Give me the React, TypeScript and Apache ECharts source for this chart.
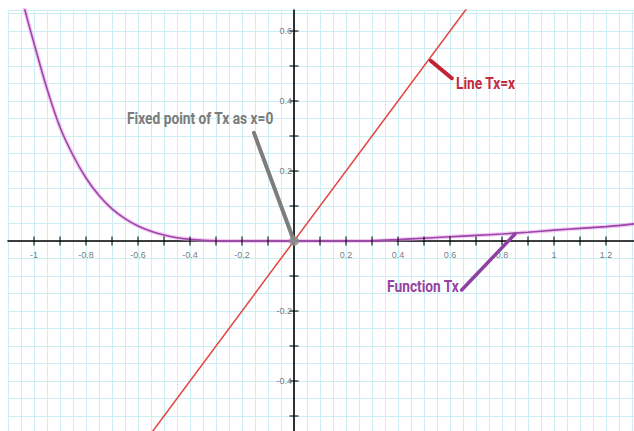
import React, { useEffect, useRef } from "react";
import * as echarts from "echarts";

// Function Tx
const functionTx: [number, number][] = [
  [-1.05, 0.705], [-1.035, 0.66], [-1.0, 0.565], [-0.95, 0.435], [-0.9, 0.325],
  [-0.85, 0.245], [-0.8, 0.18], [-0.75, 0.13], [-0.7, 0.092], [-0.65, 0.064],
  [-0.6, 0.043], [-0.55, 0.028], [-0.5, 0.017], [-0.45, 0.0095], [-0.4, 0.005],
  [-0.35, 0.002], [-0.3, 0.0005], [-0.25, 0], [0, 0], [0.3, 0.001], [0.4, 0.004],
  [0.5, 0.008], [0.6, 0.012], [0.7, 0.016], [0.8, 0.02], [0.9, 0.025], [1.0, 0.031],
  [1.1, 0.036], [1.2, 0.041], [1.31, 0.049],
];
// Line Tx = x
const lineTx: [number, number][] = [[-0.6, -0.6], [0.7, 0.7]];
const fixedPoint: [number, number][] = [[0, 0]];

const xTickValues = [-1.0, -0.9, -0.8, -0.7, -0.6, -0.5, -0.4, -0.3, -0.2, -0.1, 0.1, 0.2, 0.3, 0.4, 0.5, 0.6, 0.7, 0.8, 0.9, 1.0, 1.1, 1.2];
const yTickValues = [-0.5, -0.4, -0.3, -0.2, -0.1, 0.1, 0.2, 0.3, 0.4, 0.5, 0.6];
const xLabelValues = [-1, -0.8, -0.6, -0.4, -0.2, 0.2, 0.4, 0.6, 0.8, 1, 1.2];
const yLabelValues = [-0.4, -0.2, 0.2, 0.4, 0.6];

// annotation pointers (data coordinates)
const pointerFixed: [number, number][] = [[-0.154, 0.309], [0, 0]];
const pointerLine: [number, number][] = [[0.526, 0.515], [0.607, 0.465]];
const pointerFunction: [number, number][] = [[0.645, -0.14], [0.85, 0.02]];

const annotationTexts = ["Fixed point of Tx as x=0", "Line Tx=x", "Function Tx"];
const annotationAnchors: [number, number][] = [[-0.642, 0.351], [0.623, 0.451], [0.358, -0.131]];
const annotationColors = ["#7b7b7b", "#c62a3c", "#9444a2"];

const GRID = "#cdeef2";
const FONT = "Roboto, 'Noto Sans', sans-serif";
const LABEL_FONT = "'Liberation Sans', Arial, sans-serif";

export default function App() {
  const ref = useRef<HTMLDivElement>(null);
  useEffect(() => {
    if (!ref.current) return;
    const chart = echarts.init(ref.current, undefined, { renderer: "svg" });
    const ptrSeries = (data: [number, number][], color: string, width: number) => ({
      type: "line",
      data,
      symbol: "none",
      silent: true,
      z: 4,
      lineStyle: { color, width, cap: "round" },
    });
    const axisCommon = {
      type: "value",
      interval: 0.1,
      axisLine: { onZero: true, lineStyle: { color: "#000", width: 1.6 } },
      axisTick: { show: false },
      axisLabel: { show: false },
      splitLine: { show: true, lineStyle: { color: GRID, width: 1 } },
      minorTick: { show: false, splitNumber: 2 },
      minorSplitLine: { show: true, lineStyle: { color: GRID, width: 1 } },
    };
    const labelStyle = { color: "#555", fontSize: 9, fontFamily: LABEL_FONT };
    chart.setOption({
      animation: false,
      backgroundColor: "#ffffff",
      grid: { left: 8, top: 10, width: 650, height: 441, outerBoundsMode: "none", containLabel: false },
      xAxis: { ...axisCommon, min: -1.1, max: 1.4 },
      yAxis: { ...axisCommon, min: -0.6, max: 0.66 },
      series: [
        {
          type: "scatter",
          data: xTickValues.map((v) => [v, 0]),
          symbol: "rect",
          symbolSize: [1.3, 9],
          itemStyle: { color: "#000" },
          silent: true,
          z: 3,
        },
        {
          type: "scatter",
          data: yTickValues.map((v) => [0, v]),
          symbol: "rect",
          symbolSize: [9, 1.3],
          itemStyle: { color: "#000" },
          silent: true,
          z: 3,
        },
        {
          type: "scatter",
          data: xLabelValues.map((v) => [v, 0]),
          symbolSize: 0,
          silent: true,
          z: 3,
          label: {
            show: true,
            position: "bottom",
            distance: 9,
            formatter: (p: any) => String(p.value[0]),
            ...labelStyle,
          },
        },
        {
          type: "scatter",
          data: yLabelValues.map((v) => [0, v]),
          symbolSize: 0,
          silent: true,
          z: 3,
          label: {
            show: true,
            position: "left",
            distance: 2,
            formatter: (p: any) => String(p.value[1]),
            ...labelStyle,
          },
        },
        {
          type: "line",
          data: functionTx,
          smooth: 0.35,
          symbol: "none",
          silent: true,
          z: 2,
          lineStyle: { color: "rgba(236,150,236,0.5)", width: 4 },
        },
        {
          type: "line",
          data: functionTx,
          smooth: 0.35,
          symbol: "none",
          silent: true,
          z: 2,
          lineStyle: { color: "#9b47a8", width: 1.6 },
        },
        {
          type: "line",
          data: lineTx,
          symbol: "none",
          silent: true,
          z: 2,
          lineStyle: { color: "#e2423f", width: 1.5 },
        },
        ptrSeries(pointerFixed, "#7d7d7d", 4),
        ptrSeries(pointerLine, "#c22236", 4),
        ptrSeries(pointerFunction, "#8f3fa0", 3.5),
        {
          type: "scatter",
          data: fixedPoint,
          symbol: "circle",
          symbolSize: 10,
          itemStyle: { color: "#8c8c8c" },
          silent: true,
          z: 5,
        },
      ],
    });
    const graphic = annotationTexts.map((text, i) => {
      const p = chart.convertToPixel({ gridIndex: 0 }, annotationAnchors[i]) as number[];
      return {
        type: "text",
        x: p[0],
        y: p[1],
        scaleX: 0.86,
        z: 10,
        style: {
          text,
          fill: annotationColors[i],
          font: `bold 16px ${FONT}`,
          textAlign: "left",
          textVerticalAlign: "middle",
        },
      };
    });
    chart.setOption({ graphic });
    return () => chart.dispose();
  }, []);
  return (
    <div
      ref={ref}
      style={{ position: "fixed", left: 0, top: 0, width: 634, height: 431, background: "#fff" }}
    />
  );
}
